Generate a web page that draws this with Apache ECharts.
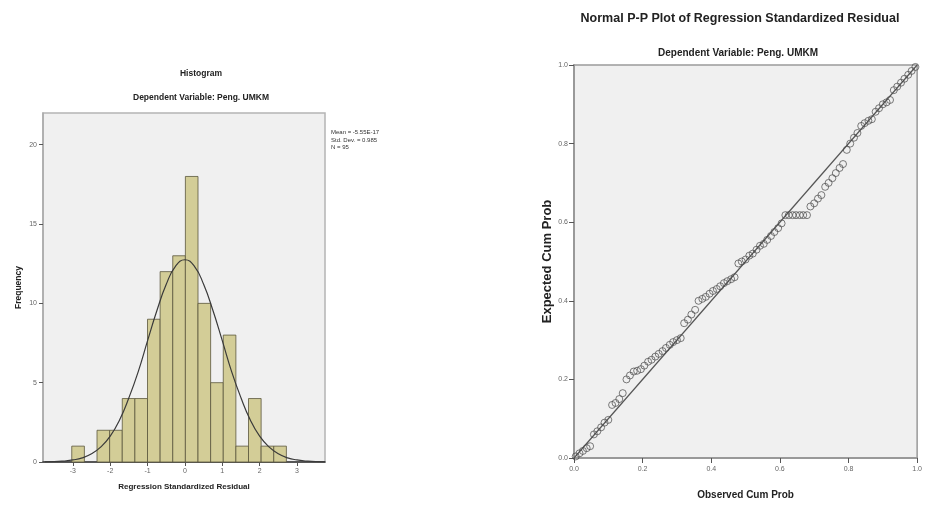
<!DOCTYPE html>
<html>
<head>
<meta charset="utf-8">
<script src="https://cdn.jsdelivr.net/npm/echarts@6/dist/echarts.min.js"></script>
<style>
  html, body { margin: 0; padding: 0; background: #fff; }
  #main { width: 925px; height: 505px; }
</style>
</head>
<body>
<div id="main"></div>
<script>
// histogram bins (edges) and counts
const binEdges = [-3.03, -2.692, -2.354, -2.016, -1.678, -1.34, -1.002, -0.664, -0.326,
  0.012, 0.35, 0.688, 1.026, 1.364, 1.702, 2.04, 2.378, 2.716];
const binCounts = [1, 0, 2, 2, 4, 4, 9, 12, 13, 18, 10, 5, 8, 1, 4, 1, 1];

// normal curve drawn over the histogram
const curveX = [-3.75, -3.5, -3.25, -3, -2.75, -2.5, -2.25, -2, -1.75, -1.5, -1.25, -1, -0.75, -0.5, -0.25,
  0, 0.25, 0.5, 0.75, 1, 1.25, 1.5, 1.75, 2, 2.25, 2.5, 2.75, 3, 3.25, 3.5, 3.75];
const curveY = [0.01, 0.02, 0.06, 0.13, 0.26, 0.52, 0.95, 1.63, 2.65, 4.05, 5.7, 7.65, 9.55, 11.2, 12.35,
  12.75, 12.35, 11.2, 9.55, 7.65, 5.7, 4.05, 2.65, 1.63, 0.95, 0.52, 0.26, 0.13, 0.06, 0.02, 0.01];

const histXTicks = [-3, -2, -1, 0, 1, 2, 3];
const histYTicks = [0, 5, 10, 15, 20];
const statLines = ["Mean = -5.55E-17", "Std. Dev. = 0.985", "N = 95"];

// P-P plot: observed cum prob vs expected cum prob
const observedCum = [0.005, 0.016, 0.026, 0.037, 0.047, 0.058, 0.068, 0.079, 0.089, 0.1,
  0.111, 0.121, 0.132, 0.142, 0.153, 0.163, 0.174, 0.184, 0.195, 0.205,
  0.216, 0.226, 0.237, 0.247, 0.258, 0.268, 0.279, 0.289, 0.3, 0.311,
  0.321, 0.332, 0.342, 0.353, 0.363, 0.374, 0.384, 0.395, 0.405, 0.416,
  0.426, 0.437, 0.447, 0.458, 0.468, 0.479, 0.489, 0.5, 0.511, 0.521,
  0.532, 0.542, 0.553, 0.563, 0.574, 0.584, 0.595, 0.605, 0.616, 0.626,
  0.637, 0.647, 0.658, 0.668, 0.679, 0.689, 0.7, 0.711, 0.721, 0.732,
  0.742, 0.753, 0.763, 0.774, 0.784, 0.795, 0.805, 0.816, 0.826, 0.837,
  0.847, 0.858, 0.868, 0.879, 0.889, 0.9, 0.911, 0.921, 0.932, 0.942,
  0.953, 0.963, 0.974, 0.984, 0.995];
const expectedCum = [0.004, 0.012, 0.018, 0.025, 0.03, 0.06, 0.068, 0.078, 0.09, 0.097,
  0.135, 0.14, 0.15, 0.165, 0.2, 0.21, 0.22, 0.222, 0.226, 0.235,
  0.245, 0.25, 0.258, 0.265, 0.272, 0.28, 0.288, 0.295, 0.3, 0.305,
  0.343, 0.352, 0.365, 0.377, 0.4, 0.405, 0.41, 0.418, 0.425, 0.43,
  0.437, 0.445, 0.45, 0.455, 0.46, 0.495, 0.5, 0.505, 0.515, 0.52,
  0.53, 0.54, 0.545, 0.555, 0.565, 0.575, 0.585, 0.597, 0.618, 0.618,
  0.618, 0.618, 0.618, 0.618, 0.618, 0.64, 0.648, 0.66, 0.669, 0.69,
  0.7, 0.712, 0.725, 0.738, 0.748, 0.784, 0.8, 0.815, 0.827, 0.845,
  0.852, 0.858, 0.862, 0.881, 0.89, 0.9, 0.905, 0.911, 0.936, 0.945,
  0.955, 0.965, 0.975, 0.985, 0.995];

const FONT = "'Liberation Sans Narrow', 'Liberation Sans', Arial, sans-serif";

const histData = binCounts.map((c, i) => [binEdges[i], binEdges[i + 1], c]);
const curveData = curveX.map((x, i) => [x, curveY[i]]);
const ppData = observedCum.map((x, i) => [x, expectedCum[i]]);

const chart = echarts.init(document.getElementById("main"));

const option = {
  animation: false,
  backgroundColor: "#fff",
  textStyle: { fontFamily: FONT },
  title: [
    { text: "Histogram", left: 196, top: 64, textAlign: "center",
      textStyle: { fontSize: 8.5, fontWeight: "bold", color: "#222", fontFamily: FONT } },
    { text: "Dependent Variable: Peng. UMKM", left: 196, top: 88, textAlign: "center",
      textStyle: { fontSize: 8.5, fontWeight: "bold", color: "#222", fontFamily: FONT } },
    { text: "Normal P-P Plot of Regression Standardized Residual", left: 735, top: 7, textAlign: "center",
      textStyle: { fontSize: 12.5, fontWeight: "bold", color: "#222", fontFamily: FONT } },
    { text: "Dependent Variable: Peng. UMKM", left: 733, top: 43, textAlign: "center",
      textStyle: { fontSize: 10, fontWeight: "bold", color: "#222", fontFamily: FONT } }
  ],
  graphic: [
    {
      type: "text", left: 331, top: 129,
      style: { text: statLines.join("\n"), fontSize: 6, lineHeight: 7.5, fill: "#333", fontFamily: FONT }
    }
  ],
  grid: [
    { left: 43, top: 113, width: 282, height: 349, show: true,
      backgroundColor: "#f0f0f0", borderColor: "#b4b4b4", borderWidth: 1.5 },
    { left: 574, top: 65, width: 344, height: 393, show: true,
      backgroundColor: "#f0f0f0", borderColor: "#9a9a9a", borderWidth: 1.5 }
  ],
  xAxis: [
    {
      gridIndex: 0, type: "value", min: -3.8, max: 3.75,
      name: "Regression Standardized Residual", nameLocation: "middle", nameGap: 21,
      nameTextStyle: { fontSize: 8, fontWeight: "bold", color: "#222" },
      axisLine: { onZero: false, lineStyle: { color: "#333", width: 1.5 } },
      axisTick: { customValues: histXTicks, length: 4, lineStyle: { color: "#555" } },
      axisLabel: { customValues: histXTicks, fontSize: 7, color: "#666", margin: 6 },
      splitLine: { show: false }
    },
    {
      gridIndex: 1, type: "value", min: 0, max: 1, interval: 0.2,
      name: "Observed Cum Prob", nameLocation: "middle", nameGap: 32,
      nameTextStyle: { fontSize: 10, fontWeight: "bold", color: "#222" },
      axisLine: { onZero: false, lineStyle: { color: "#999", width: 2 } },
      axisTick: { length: 5, lineStyle: { color: "#555" } },
      axisLabel: { fontSize: 7, color: "#666", margin: 8, formatter: v => v.toFixed(1) },
      splitLine: { show: false }
    }
  ],
  yAxis: [
    {
      gridIndex: 0, type: "value", min: 0, max: 22,
      name: "Frequency", nameLocation: "middle", nameGap: 20,
      nameTextStyle: { fontSize: 8.5, fontWeight: "bold", color: "#222" },
      axisLine: { show: true, onZero: false, lineStyle: { color: "#aaa", width: 1.5 } },
      axisTick: { show: true, customValues: histYTicks, length: 4, lineStyle: { color: "#555" } },
      axisLabel: { customValues: histYTicks, fontSize: 7, color: "#666", margin: 6 },
      splitLine: { show: false }
    },
    {
      gridIndex: 1, type: "value", min: 0, max: 1, interval: 0.2,
      name: "Expected Cum Prob", nameLocation: "middle", nameGap: 14,
      nameTextStyle: { fontSize: 13, fontWeight: "bold", color: "#222" },
      axisLine: { show: true, onZero: false, lineStyle: { color: "#999", width: 2 } },
      axisTick: { show: true, length: 5, lineStyle: { color: "#555" } },
      axisLabel: { fontSize: 7, color: "#666", margin: 6, formatter: v => v.toFixed(1) },
      splitLine: { show: false }
    }
  ],
  series: [
    {
      type: "custom", xAxisIndex: 0, yAxisIndex: 0, data: histData,
      encode: { x: [0, 1], y: 2 },
      renderItem: function (params, api) {
        const c = api.value(2);
        if (!c) return null;
        const p0 = api.coord([api.value(0), c]);
        const p1 = api.coord([api.value(1), 0]);
        return {
          type: "rect",
          shape: { x: p0[0], y: p0[1], width: p1[0] - p0[0], height: p1[1] - p0[1] },
          style: { fill: "#d3cd97", stroke: "#5a573c", lineWidth: 0.8 }
        };
      },
      z: 2
    },
    {
      type: "line", xAxisIndex: 0, yAxisIndex: 0, data: curveData, smooth: true,
      showSymbol: false, lineStyle: { color: "#3a3a3a", width: 1.2 }, z: 3
    },
    {
      type: "line", xAxisIndex: 1, yAxisIndex: 1, data: [[0, 0], [1, 1]],
      showSymbol: false, lineStyle: { color: "#555", width: 1.2 }, z: 2
    },
    {
      type: "scatter", xAxisIndex: 1, yAxisIndex: 1, data: ppData,
      symbol: "circle", symbolSize: 7,
      itemStyle: { color: "rgba(0,0,0,0)", borderColor: "#4a4a4a", borderWidth: 0.9 }, z: 3
    }
  ]
};

chart.setOption(option);
</script>
</body>
</html>
